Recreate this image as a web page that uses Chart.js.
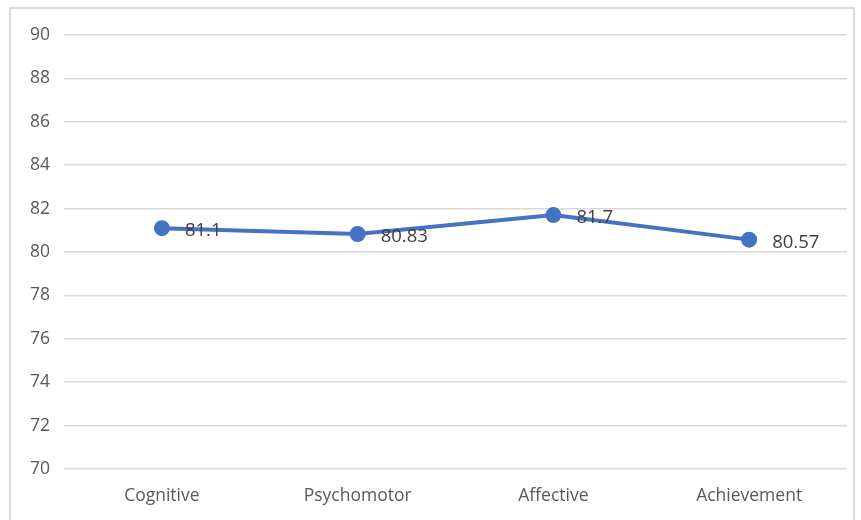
<!DOCTYPE html>
<html>
<head>
<meta charset="utf-8">
<script src="https://cdn.jsdelivr.net/npm/chart.js@4"></script>
<style>
    body { margin: 0; background: #fff; }
    #wrap { position: relative; width: 861px; height: 520px; }
    #frame {
        position: absolute; left: 9px; top: 7px; width: 846px; height: 530px;
        border: 2px solid #d9d9d9; box-sizing: border-box;
    }
    canvas { position: absolute; left: 0; top: 0; }
</style>
</head>
<body>
<div id="wrap">
    <div id="frame"></div>
    <canvas id="lineChart" width="861" height="520"></canvas>
</div>
<script>
// Valores del grafico
const categories = ['Cognitive', 'Psychomotor', 'Affective', 'Achievement'];
const scores = [81.1, 80.83, 81.7, 80.57];
const yTicks = [70, 72, 74, 76, 78, 80, 82, 84, 86, 88, 90];

const FONT = "'Open Sans', 'DejaVu Sans', sans-serif";

// Etiquetas de datos a la derecha de cada punto
const valueLabels = {
    id: 'valueLabels',
    afterDatasetsDraw(chart) {
        const ctx = chart.ctx;
        const meta = chart.getDatasetMeta(0);
        ctx.save();
        ctx.font = '18.5px ' + FONT;
        ctx.fillStyle = '#404040';
        ctx.textAlign = 'left';
        ctx.textBaseline = 'middle';
        meta.data.forEach((pt, i) => {
            ctx.fillText(String(scores[i]), pt.x + 23, pt.y + 3);
        });
        ctx.restore();
    }
};

new Chart(document.getElementById('lineChart'), {
    type: 'line',
    data: {
        labels: categories,
        datasets: [{
            data: scores,
            borderColor: '#4472c4',
            backgroundColor: '#4472c4',
            borderWidth: 4,
            pointRadius: 6,
            pointHoverRadius: 6,
            tension: 0,
        }],
    },
    options: {
        responsive: false,
        animation: false,
        events: [],
        layout: { padding: { top: 35, right: 14, left: 0, bottom: 0 } },
        plugins: {
            legend: { display: false },
            tooltip: { enabled: false },
        },
        scales: {
            x: {
                offset: true,
                grid: { display: false, drawTicks: false },
                border: { display: false },
                ticks: { color: '#595959', font: { family: FONT, size: 17.5 }, padding: 17 },
                afterFit(scale) { scale.height = 51; },
            },
            y: {
                min: 70,
                max: 90,
                afterBuildTicks(scale) { scale.ticks = yTicks.map(v => ({ value: v })); },
                grid: { color: '#d9d9d9', lineWidth: 1.5, drawTicks: false },
                border: { display: false },
                ticks: { color: '#595959', font: { family: FONT, size: 17.5 }, padding: 14 },
                afterFit(scale) { scale.width = 64; },
            },
        },
    },
    plugins: [valueLabels],
});
</script>
</body>
</html>
